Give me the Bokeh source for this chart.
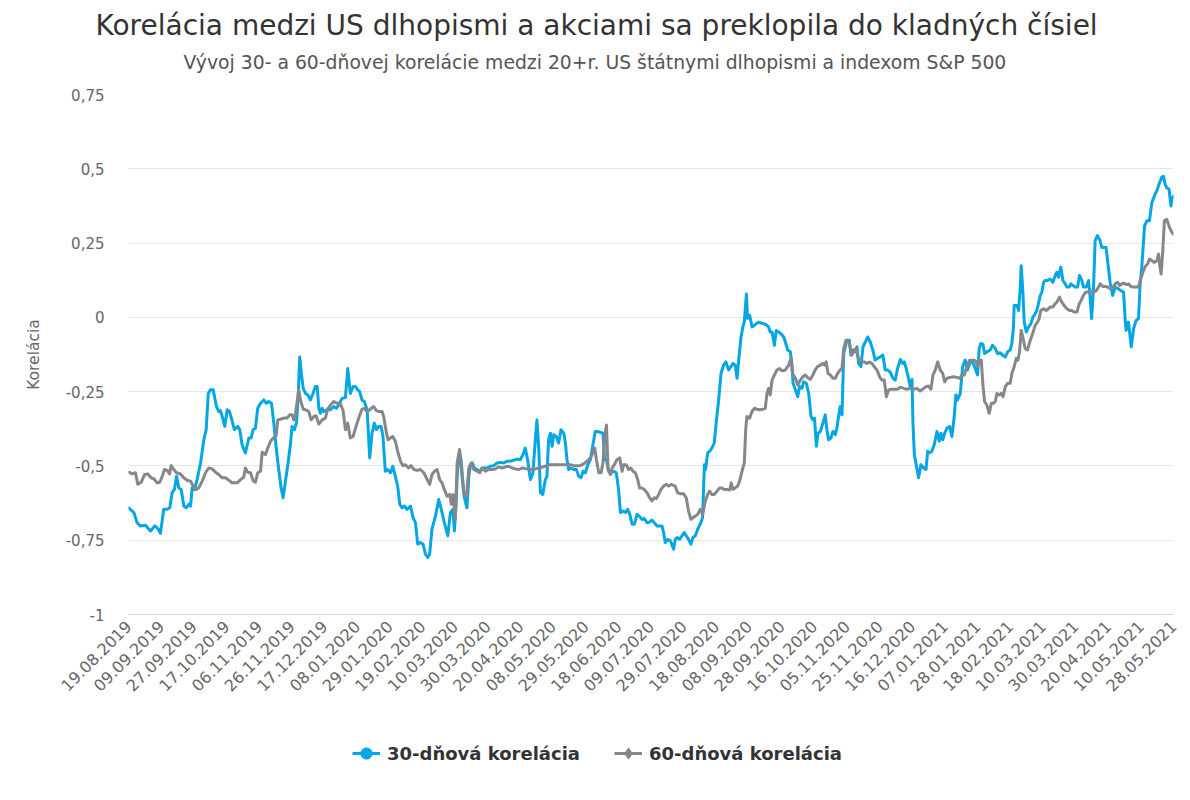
import math
from bokeh.plotting import figure
from bokeh.models import (Range1d, FixedTicker, Legend, LegendItem, Title)
from bokeh.layouts import column
from bokeh.embed import file_html
from bokeh.resources import INLINE

TITLE = "Korelácia medzi US dlhopismi a akciami sa preklopila do kladných čísiel"
SUBTITLE = "Vývoj 30- a 60-dňovej korelácie medzi 20+r. US štátnymi dlhopismi a indexom S&P 500"
Y_TITLE = "Korelácia"
NAME_30 = "30-dňová korelácia"
NAME_60 = "60-dňová korelácia"

# x-axis category labels (every 14th trading day)
tick_labels = ["19.08.2019", "09.09.2019", "27.09.2019", "17.10.2019", "06.11.2019", "26.11.2019",
               "17.12.2019", "08.01.2020", "29.01.2020", "19.02.2020", "10.03.2020", "30.03.2020",
               "20.04.2020", "08.05.2020", "29.05.2020", "18.06.2020", "09.07.2020", "29.07.2020",
               "18.08.2020", "08.09.2020", "28.09.2020", "16.10.2020", "05.11.2020", "25.11.2020",
               "16.12.2020", "07.01.2021", "28.01.2021", "18.02.2021", "10.03.2021", "30.03.2021",
               "20.04.2021", "10.05.2021", "28.05.2021"]
tick_step = 14
n_last = 448

y_ticks = [-1, -0.75, -0.5, -0.25, 0, 0.25, 0.5, 0.75]
y_tick_labels = ["-1", "-0,75", "-0,5", "-0,25", "0", "0,25", "0,5", "0,75"]

# 30-day correlation: (trading-day index, value)
b_idx = [0.1, 2.3, 3.7, 5.1, 7.3, 9.4, 11.3, 12.6, 13.7, 15.1, 16.6, 17.7, 18.7, 19.7, 20.6, 21.6, 22.6, 23.7, 24.7, 25.9,
         26.6, 27.3, 28.3, 29.4, 30.9, 32.3, 33.3, 34.2, 35.1, 36.3, 37.7, 38.7, 39.4, 40.6, 41.3, 42.3, 43.3, 44.1, 45.4, 46.9,
         47.7, 48.7, 50.1, 51.6, 52.6, 53.4, 54.4, 55.4, 56.6, 58.0, 59.1, 60.1, 61.3, 62.3, 63.4, 64.4, 65.4, 66.3, 67.3, 68.3,
         69.4, 70.1, 71.1, 72.0, 72.7, 73.4, 74.1, 74.9, 75.9, 76.9, 78.0, 79.1, 80.1, 80.9, 81.6, 82.3, 83.0, 83.7, 85.1, 86.6,
         88.0, 89.1, 90.1, 91.6, 93.0, 94.0, 95.1, 96.3, 97.3, 98.3, 99.1, 100.1, 101.1, 102.3, 103.0, 103.4, 104.4, 105.4, 106.3, 107.3,
         108.3, 109.1, 110.1, 111.1, 112.3, 113.3, 114.4, 115.4, 116.3, 117.3, 118.3, 119.4, 120.9, 122.0, 123.0, 124.0, 125.1, 126.3, 127.3, 128.3,
         129.1, 130.1, 131.6, 133.0, 134.1, 135.4, 136.9, 138.0, 139.1, 139.7, 140.4, 140.9, 141.6, 142.3, 143.0, 144.0, 145.1, 145.9, 146.6, 147.4,
         148.3, 149.4, 150.6, 151.6, 152.6, 153.7, 155.1, 156.6, 158.0, 159.4, 160.9, 162.3, 163.7, 165.1, 166.6, 168.0, 169.1, 170.1, 171.1, 172.3,
         173.4, 174.4, 175.1, 175.9, 176.6, 177.6, 178.7, 179.4, 180.1, 180.9, 181.6, 182.3, 183.4, 184.4, 185.4, 186.6, 187.3, 188.0, 188.7, 189.7,
         190.9, 192.0, 193.0, 194.0, 194.9, 195.9, 196.9, 198.0, 199.0, 200.1, 201.1, 202.3, 203.4, 204.1, 204.9, 205.9, 206.6, 208.0, 209.1, 210.1,
         210.9, 212.0, 213.0, 214.0, 214.9, 215.9, 216.9, 218.0, 219.0, 220.1, 221.1, 222.3, 223.3, 224.4, 225.4, 226.6, 227.7, 228.7, 229.4, 230.1,
         231.1, 232.3, 233.7, 234.4, 235.4, 236.3, 237.3, 238.3, 239.1, 240.1, 241.1, 242.0, 243.0, 244.0, 245.1, 246.1, 246.9, 247.4, 248.3, 249.1,
         250.1, 251.1, 252.0, 253.0, 254.0, 255.1, 256.1, 257.3, 258.3, 259.1, 260.1, 260.9, 261.6, 262.6, 263.4, 264.0, 264.9, 265.4, 266.3, 267.3,
         268.3, 269.2, 270.1, 271.1, 272.3, 273.4, 274.4, 275.1, 275.9, 276.9, 277.7, 278.7, 279.7, 280.9, 281.6, 282.6, 283.7, 284.4, 284.9, 285.9,
         286.9, 287.7, 288.7, 289.4, 290.6, 291.6, 292.6, 293.4, 294.1, 294.9, 295.6, 296.6, 297.7, 298.7, 299.4, 300.1, 301.1, 302.0, 303.0, 303.7,
         304.4, 305.1, 305.9, 306.6, 307.3, 308.0, 309.0, 309.7, 310.6, 311.6, 312.3, 313.0, 314.0, 314.9, 315.9, 316.9, 318.0, 319.1, 320.1, 321.1,
         322.3, 323.4, 324.4, 325.4, 326.6, 327.7, 328.7, 329.7, 330.9, 331.9, 332.6, 333.4, 334.4, 335.1, 335.9, 336.3, 336.9, 337.7, 338.7, 339.7,
         340.9, 341.9, 342.6, 343.4, 344.4, 345.4, 346.6, 347.6, 348.3, 349.1, 349.9, 350.9, 352.0, 353.0, 354.0, 354.7, 355.4, 356.6, 357.6, 358.7,
         359.7, 360.9, 361.9, 363.0, 364.0, 364.7, 365.4, 366.3, 367.0, 368.0, 369.4, 370.4, 371.6, 372.6, 373.7, 374.7, 375.9, 376.9, 378.0, 378.7,
         379.4, 379.7, 380.9, 381.6, 382.3, 382.7, 383.4, 384.0, 384.9, 385.9, 386.9, 387.7, 388.7, 389.4, 390.1, 390.9, 391.6, 392.3, 393.0, 394.0,
         395.1, 396.3, 397.3, 398.0, 398.7, 399.7, 400.6, 401.6, 402.3, 403.3, 404.0, 404.9, 405.9, 406.9, 407.7, 408.7, 409.4, 410.6, 411.6, 412.3,
         412.9, 413.7, 414.4, 415.4, 416.3, 417.3, 418.0, 419.1, 419.9, 420.9, 421.9, 423.0, 424.4, 425.4, 426.6, 427.3, 427.7, 428.7, 429.9, 430.9,
         432.0, 433.0, 433.7, 434.4, 435.6, 436.6, 437.7, 438.7, 440.1, 441.1, 442.0, 443.0, 443.7, 444.4, 445.1, 446.1, 446.9, 447.3, 448.0]
b_val = [-0.641, -0.657, -0.691, -0.702, -0.700, -0.719, -0.702, -0.711, -0.727, -0.646, -0.646, -0.641, -0.590, -0.579, -0.535, -0.574, -0.579, -0.635, -0.641, -0.629,
         -0.635, -0.574, -0.579, -0.546, -0.490, -0.412, -0.378, -0.256, -0.244, -0.244, -0.300, -0.317, -0.314, -0.345, -0.367, -0.311, -0.317, -0.339, -0.378, -0.367,
         -0.378, -0.429, -0.456, -0.406, -0.406, -0.378, -0.373, -0.306, -0.289, -0.278, -0.289, -0.283, -0.289, -0.356, -0.445, -0.512, -0.574, -0.607, -0.551, -0.496,
         -0.429, -0.367, -0.378, -0.356, -0.278, -0.133, -0.189, -0.239, -0.256, -0.261, -0.278, -0.256, -0.233, -0.233, -0.306, -0.323, -0.306, -0.317, -0.311, -0.311,
         -0.300, -0.306, -0.295, -0.272, -0.270, -0.172, -0.256, -0.233, -0.233, -0.244, -0.250, -0.278, -0.283, -0.311, -0.412, -0.473, -0.390, -0.356, -0.378, -0.367,
         -0.367, -0.401, -0.518, -0.512, -0.523, -0.501, -0.535, -0.568, -0.629, -0.641, -0.635, -0.646, -0.635, -0.674, -0.691, -0.763, -0.758, -0.763, -0.797, -0.808,
         -0.797, -0.713, -0.669, -0.613, -0.646, -0.691, -0.735, -0.657, -0.646, -0.719, -0.635, -0.535, -0.462, -0.468, -0.535, -0.607, -0.641, -0.535, -0.496, -0.490,
         -0.507, -0.512, -0.518, -0.507, -0.507, -0.507, -0.501, -0.499, -0.490, -0.488, -0.490, -0.484, -0.484, -0.481, -0.477, -0.479, -0.462, -0.440, -0.479, -0.546,
         -0.523, -0.412, -0.345, -0.445, -0.590, -0.596, -0.546, -0.535, -0.412, -0.390, -0.434, -0.395, -0.401, -0.423, -0.378, -0.390, -0.423, -0.479, -0.512, -0.507,
         -0.512, -0.512, -0.535, -0.540, -0.518, -0.523, -0.496, -0.479, -0.434, -0.384, -0.384, -0.387, -0.390, -0.479, -0.479, -0.518, -0.523, -0.518, -0.523, -0.579,
         -0.657, -0.652, -0.657, -0.646, -0.663, -0.696, -0.696, -0.663, -0.669, -0.680, -0.677, -0.691, -0.689, -0.682, -0.691, -0.702, -0.702, -0.702, -0.724, -0.758,
         -0.747, -0.752, -0.780, -0.747, -0.741, -0.747, -0.735, -0.724, -0.735, -0.747, -0.763, -0.741, -0.735, -0.713, -0.696, -0.674, -0.496, -0.512, -0.456, -0.451,
         -0.440, -0.423, -0.350, -0.278, -0.189, -0.161, -0.150, -0.177, -0.166, -0.155, -0.161, -0.205, -0.144, -0.066, -0.032, -0.016, 0.079, -0.004, 0.007, -0.032,
         -0.027, -0.021, -0.016, -0.019, -0.021, -0.025, -0.032, -0.049, -0.049, -0.094, -0.044, -0.049, -0.055, -0.066, -0.083, -0.110, -0.116, -0.155, -0.222, -0.244,
         -0.267, -0.233, -0.239, -0.217, -0.222, -0.256, -0.334, -0.345, -0.339, -0.434, -0.390, -0.384, -0.356, -0.328, -0.378, -0.412, -0.406, -0.384, -0.395, -0.373,
         -0.334, -0.300, -0.328, -0.122, -0.099, -0.077, -0.077, -0.127, -0.110, -0.116, -0.099, -0.155, -0.166, -0.099, -0.083, -0.066, -0.083, -0.110, -0.144, -0.138,
         -0.133, -0.127, -0.177, -0.177, -0.185, -0.205, -0.211, -0.172, -0.142, -0.155, -0.150, -0.172, -0.205, -0.233, -0.209, -0.356, -0.462, -0.496, -0.540, -0.496,
         -0.507, -0.512, -0.451, -0.456, -0.451, -0.429, -0.384, -0.417, -0.390, -0.412, -0.390, -0.373, -0.367, -0.401, -0.334, -0.261, -0.278, -0.256, -0.166, -0.144,
         -0.177, -0.150, -0.150, -0.172, -0.194, -0.105, -0.088, -0.090, -0.122, -0.116, -0.110, -0.094, -0.105, -0.122, -0.119, -0.127, -0.133, -0.116, -0.110, -0.088,
         -0.032, 0.040, 0.040, 0.023, 0.102, 0.174, 0.090, -0.016, -0.049, -0.032, -0.021, 0.001, 0.012, 0.023, 0.046, 0.074, 0.085, 0.118, 0.124, 0.124,
         0.129, 0.118, 0.141, 0.152, 0.135, 0.169, 0.124, 0.113, 0.102, 0.102, 0.113, 0.107, 0.102, 0.102, 0.141, 0.124, 0.102, 0.102, 0.124, 0.063,
         -0.004, 0.096, 0.258, 0.275, 0.263, 0.235, 0.235, 0.235, 0.180, 0.113, 0.074, 0.102, 0.096, 0.090, 0.085, -0.010, -0.044, -0.016, -0.099, -0.038,
         -0.010, -0.004, 0.113, 0.169, 0.308, 0.325, 0.325, 0.386, 0.414, 0.431, 0.453, 0.472, 0.475, 0.448, 0.436, 0.431, 0.375, 0.397, 0.408]

# 60-day correlation: (trading-day index, value)
g_idx = [0.1, 1.6, 3.0, 4.0, 5.4, 6.9, 8.3, 9.7, 10.9, 12.3, 13.4, 14.4, 15.4, 16.6, 17.6, 18.3, 19.4, 20.6, 22.3, 23.7,
         25.1, 26.6, 27.7, 29.0, 30.1, 31.6, 33.0, 34.4, 35.9, 37.3, 38.7, 40.1, 41.6, 43.0, 44.4, 46.6, 48.0, 49.4, 50.1, 51.1,
         52.3, 53.4, 54.4, 55.4, 56.6, 57.3, 58.7, 59.7, 60.9, 62.3, 63.3, 64.0, 65.1, 66.6, 68.0, 69.1, 70.1, 70.9, 71.6, 72.3,
         73.0, 73.7, 74.9, 75.9, 77.3, 78.3, 79.4, 80.4, 81.6, 83.0, 84.4, 85.4, 86.6, 88.0, 89.4, 90.9, 92.0, 93.0, 94.0, 95.1,
         96.3, 97.3, 98.7, 100.1, 101.1, 102.3, 103.7, 105.1, 106.3, 107.3, 108.7, 109.4, 110.6, 111.3, 112.3, 113.3, 114.4, 115.4, 116.6, 117.7,
         118.7, 120.1, 121.1, 122.3, 123.7, 125.1, 126.6, 127.7, 129.1, 130.1, 131.1, 132.3, 133.4, 134.4, 135.4, 136.6, 137.7, 138.4, 139.1, 140.1,
         140.9, 141.9, 142.7, 143.7, 144.9, 145.9, 146.9, 148.0, 149.4, 150.6, 151.6, 153.0, 154.4, 155.9, 157.3, 158.7, 160.1, 161.6, 163.0, 164.4,
         165.9, 167.3, 168.7, 170.1, 172.3, 174.4, 175.9, 178.0, 180.1, 182.3, 184.4, 187.3, 189.4, 190.9, 192.3, 193.7, 195.1, 196.6, 198.0, 199.1,
         199.9, 200.6, 201.6, 202.6, 203.4, 204.1, 204.9, 205.6, 206.6, 207.3, 208.3, 209.4, 210.6, 211.6, 212.3, 213.4, 214.4, 215.4, 216.3, 217.3,
         218.3, 219.1, 220.1, 221.1, 222.3, 223.4, 224.4, 225.4, 226.3, 227.3, 228.3, 229.4, 230.6, 231.6, 232.6, 234.4, 235.4, 236.6, 238.0, 239.1,
         240.1, 241.1, 242.0, 243.0, 244.0, 245.1, 246.1, 247.3, 248.3, 249.1, 250.1, 251.1, 252.3, 253.4, 254.4, 255.4, 256.6, 257.7, 258.4, 259.1,
         260.1, 261.1, 262.0, 263.0, 264.0, 264.6, 265.1, 266.3, 267.3, 268.3, 269.4, 270.6, 272.0, 273.0, 273.7, 274.4, 275.1, 275.9, 276.9, 278.0,
         279.1, 280.1, 281.6, 283.0, 284.0, 284.7, 285.9, 286.9, 288.0, 289.1, 290.1, 291.1, 292.3, 293.4, 294.4, 295.4, 296.6, 297.6, 298.4, 299.1,
         299.9, 300.9, 302.0, 303.0, 304.0, 305.1, 305.9, 306.6, 307.6, 308.7, 309.4, 310.1, 311.1, 312.0, 312.7, 313.4, 314.4, 315.4, 316.6, 317.7,
         318.7, 319.7, 320.9, 322.0, 323.0, 324.0, 324.9, 325.9, 326.9, 328.7, 329.7, 330.9, 332.3, 333.7, 335.1, 336.6, 338.0, 339.4, 340.9, 342.0,
         343.0, 344.0, 344.9, 345.9, 346.9, 348.0, 349.1, 349.9, 350.9, 352.3, 353.7, 355.1, 356.3, 357.3, 358.3, 359.4, 360.6, 361.6, 362.6, 363.4,
         364.0, 364.9, 365.6, 366.3, 367.0, 368.0, 369.0, 369.9, 370.9, 371.6, 372.3, 373.3, 374.1, 374.9, 375.9, 376.9, 378.0, 378.7, 379.7, 380.6,
         381.3, 382.0, 382.7, 383.7, 384.4, 385.4, 386.6, 387.6, 388.7, 389.7, 390.4, 391.1, 392.3, 393.4, 394.4, 395.1, 396.3, 397.3, 398.0, 399.1,
         400.1, 401.1, 402.3, 403.4, 404.4, 405.4, 406.6, 407.6, 408.4, 409.4, 410.4, 411.6, 412.6, 413.7, 414.9, 415.9, 416.6, 417.7, 418.7, 419.7,
         420.9, 422.0, 423.0, 424.0, 424.9, 425.9, 426.9, 427.7, 428.7, 429.7, 430.9, 432.0, 433.0, 433.7, 434.9, 435.9, 436.9, 437.7, 438.7, 439.7,
         440.9, 441.6, 442.0, 442.7, 443.4, 444.1, 445.1, 446.3, 447.3, 448.0]
g_val = [-0.521, -0.527, -0.523, -0.562, -0.555, -0.529, -0.527, -0.540, -0.543, -0.557, -0.555, -0.537, -0.512, -0.515, -0.527, -0.499, -0.512, -0.523, -0.527, -0.540,
         -0.548, -0.551, -0.568, -0.579, -0.574, -0.551, -0.523, -0.507, -0.510, -0.521, -0.529, -0.540, -0.540, -0.548, -0.557, -0.557, -0.546, -0.538, -0.507, -0.521,
         -0.523, -0.549, -0.555, -0.523, -0.518, -0.454, -0.462, -0.440, -0.417, -0.404, -0.398, -0.345, -0.343, -0.339, -0.339, -0.328, -0.328, -0.345, -0.323, -0.283,
         -0.244, -0.278, -0.309, -0.311, -0.317, -0.345, -0.334, -0.331, -0.359, -0.345, -0.339, -0.309, -0.295, -0.283, -0.289, -0.292, -0.314, -0.378, -0.356, -0.406,
         -0.401, -0.373, -0.339, -0.309, -0.306, -0.317, -0.309, -0.300, -0.314, -0.317, -0.317, -0.334, -0.390, -0.412, -0.406, -0.401, -0.417, -0.451, -0.484, -0.499,
         -0.496, -0.507, -0.499, -0.512, -0.515, -0.512, -0.523, -0.540, -0.562, -0.529, -0.518, -0.512, -0.546, -0.557, -0.579, -0.602, -0.596, -0.629, -0.596, -0.680,
         -0.490, -0.445, -0.490, -0.590, -0.602, -0.507, -0.490, -0.512, -0.518, -0.523, -0.507, -0.518, -0.512, -0.512, -0.510, -0.503, -0.507, -0.503, -0.501, -0.507,
         -0.510, -0.512, -0.507, -0.509, -0.512, -0.510, -0.507, -0.503, -0.496, -0.496, -0.496, -0.496, -0.496, -0.499, -0.499, -0.499, -0.493, -0.484, -0.473, -0.456,
         -0.440, -0.479, -0.523, -0.523, -0.490, -0.406, -0.362, -0.512, -0.529, -0.507, -0.496, -0.479, -0.473, -0.518, -0.496, -0.496, -0.512, -0.507, -0.518, -0.523,
         -0.546, -0.574, -0.574, -0.579, -0.590, -0.607, -0.618, -0.607, -0.610, -0.596, -0.579, -0.568, -0.562, -0.568, -0.562, -0.568, -0.590, -0.594, -0.594, -0.607,
         -0.652, -0.680, -0.674, -0.669, -0.663, -0.646, -0.663, -0.618, -0.596, -0.585, -0.596, -0.596, -0.585, -0.574, -0.574, -0.579, -0.579, -0.581, -0.557, -0.579,
         -0.574, -0.568, -0.551, -0.518, -0.490, -0.378, -0.334, -0.339, -0.317, -0.306, -0.309, -0.311, -0.309, -0.306, -0.256, -0.239, -0.261, -0.211, -0.194, -0.177,
         -0.172, -0.180, -0.177, -0.161, -0.138, -0.189, -0.205, -0.228, -0.211, -0.200, -0.194, -0.202, -0.209, -0.194, -0.177, -0.166, -0.161, -0.155, -0.161, -0.150,
         -0.189, -0.194, -0.205, -0.205, -0.189, -0.177, -0.172, -0.105, -0.077, -0.083, -0.099, -0.127, -0.110, -0.105, -0.133, -0.144, -0.150, -0.150, -0.155, -0.150,
         -0.155, -0.166, -0.177, -0.200, -0.211, -0.211, -0.267, -0.244, -0.242, -0.242, -0.242, -0.235, -0.239, -0.242, -0.239, -0.242, -0.239, -0.248, -0.239, -0.233,
         -0.231, -0.242, -0.194, -0.177, -0.150, -0.177, -0.189, -0.217, -0.205, -0.202, -0.200, -0.202, -0.205, -0.194, -0.194, -0.166, -0.144, -0.144, -0.144, -0.150,
         -0.166, -0.144, -0.144, -0.228, -0.283, -0.295, -0.323, -0.289, -0.289, -0.283, -0.256, -0.261, -0.256, -0.267, -0.233, -0.222, -0.222, -0.189, -0.166, -0.138,
         -0.144, -0.116, -0.044, -0.077, -0.105, -0.110, -0.077, -0.055, -0.027, -0.016, -0.004, 0.023, 0.029, 0.023, 0.029, 0.035, 0.035, 0.046, 0.051, 0.068,
         0.051, 0.040, 0.029, 0.023, 0.023, 0.018, 0.018, 0.046, 0.057, 0.074, 0.085, 0.085, 0.087, 0.085, 0.090, 0.102, 0.113, 0.104, 0.104, 0.102,
         0.096, 0.102, 0.113, 0.118, 0.107, 0.113, 0.115, 0.110, 0.113, 0.104, 0.102, 0.102, 0.102, 0.124, 0.152, 0.171, 0.180, 0.196, 0.191, 0.185,
         0.191, 0.213, 0.180, 0.146, 0.224, 0.325, 0.330, 0.302, 0.286, 0.280]

BLUE = "#04a6e3"
GRAY = "#86878b"
FONT = "DejaVu Sans"

# ---------------- main chart ----------------
p = figure(width=1190, height=706, output_backend="svg", toolbar_location=None,
           x_range=Range1d(0, n_last), y_range=Range1d(-1, 0.75),
           min_border_left=128, min_border_right=17, min_border_top=94, min_border_bottom=92)
p.outline_line_color = None
p.background_fill_color = "white"
p.border_fill_color = "white"

p.xgrid.grid_line_color = None
p.ygrid.grid_line_color = "#e6e6e6"
p.ygrid.grid_line_width = 1

p.yaxis.ticker = FixedTicker(ticks=y_ticks)
p.yaxis.major_label_overrides = {t: s for t, s in zip(y_ticks, y_tick_labels)}
p.yaxis.axis_line_color = None
p.yaxis.major_tick_line_color = None
p.yaxis.minor_tick_line_color = None
p.yaxis.major_tick_out = 0
p.yaxis.major_tick_in = 0
p.yaxis.major_label_standoff = 24
p.yaxis.major_label_text_font = FONT
p.yaxis.major_label_text_font_size = "15px"
p.yaxis.major_label_text_color = "#666666"
p.yaxis.axis_label = Y_TITLE
p.yaxis.axis_label_text_font = FONT
p.yaxis.axis_label_text_font_size = "15.5px"
p.yaxis.axis_label_text_font_style = "normal"
p.yaxis.axis_label_text_color = "#666666"
p.yaxis.axis_label_standoff = 20

x_ticks = [i * tick_step for i in range(len(tick_labels))]
p.xaxis.ticker = FixedTicker(ticks=x_ticks)
p.xaxis.major_label_overrides = {t: s for t, s in zip(x_ticks, tick_labels)}
p.xaxis.axis_line_color = "#ccd6eb"
p.xaxis.axis_line_width = 1
p.xaxis.major_tick_line_color = None
p.xaxis.minor_tick_line_color = None
p.xaxis.major_tick_out = 0
p.xaxis.major_tick_in = 0
p.xaxis.major_label_standoff = 9
p.xaxis.major_label_orientation = math.pi / 4
p.xaxis.major_label_text_font = FONT
p.xaxis.major_label_text_font_size = "16px"
p.xaxis.major_label_text_color = "#666666"

p.line(b_idx, b_val, line_color=BLUE, line_width=3, line_join="round", line_cap="round")
p.line(g_idx, g_val, line_color=GRAY, line_width=3, line_join="round", line_cap="round")

subtitle = Title(text=SUBTITLE, align="left", offset=55, text_font=FONT, text_font_size="18.8px",
                 text_font_style="normal", text_color="#555555", standoff=44)
title = Title(text=TITLE, align="left", offset=-33, text_font=FONT, text_font_size="28px",
              text_font_style="normal", text_color="#333333", standoff=-28)
p.add_layout(subtitle, "above")
p.add_layout(title, "above")

# ---------------- legend strip ----------------
pl = figure(width=1190, height=94, output_backend="svg", toolbar_location=None,
            x_range=Range1d(0, 1), y_range=Range1d(0, 1),
            x_axis_location=None, y_axis_location=None, min_border=0)
pl.outline_line_color = None
pl.xgrid.grid_line_color = None
pl.ygrid.grid_line_color = None
k30 = pl.line(b_idx[:2], b_val[:2], line_color=BLUE, line_width=3, visible=False)
k60 = pl.line(g_idx[:2], g_val[:2], line_color=GRAY, line_width=3, visible=False)
s30 = pl.scatter(b_idx[:1], b_val[:1], marker="circle", size=10, fill_color=BLUE, line_color=BLUE, visible=False)
s60 = pl.scatter(g_idx[:1], g_val[:1], marker="diamond", size=10, fill_color=GRAY, line_color=GRAY, visible=False)

legend = Legend(items=[LegendItem(label=NAME_30, renderers=[k30, s30]),
                       LegendItem(label=NAME_60, renderers=[k60, s60])],
                orientation="horizontal", location=(224, 33),
                glyph_width=28, glyph_height=28, label_standoff=7, spacing=34,
                padding=0, margin=0, border_line_color=None, background_fill_alpha=0,
                label_text_font=FONT, label_text_font_size="18px", label_text_font_style="bold",
                label_text_color="#333333", click_policy="none")
pl.add_layout(legend, "center")

open("out.html", "w").write(file_html(column(p, pl, spacing=0), INLINE))
